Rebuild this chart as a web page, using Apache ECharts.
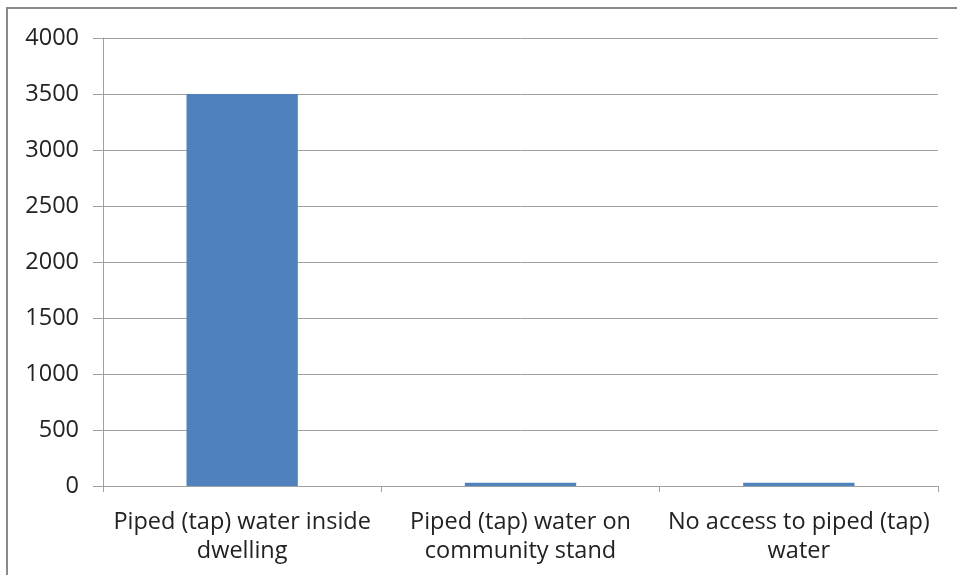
<!DOCTYPE html>
<html><head><meta charset="utf-8">
<script src="https://cdn.jsdelivr.net/npm/echarts@6/dist/echarts.min.js"></script>
<style>html,body{margin:0;padding:0;background:#fff}#c{width:957px;height:575px}</style>
</head><body><div id="c"></div>
<script>
const categories = ["Piped (tap) water inside\ndwelling", "Piped (tap) water on\ncommunity stand", "No access to piped (tap)\nwater"];
const values = [3500, 30, 30];
const yTicks = {min: 0, max: 4000, interval: 500};

const chart = echarts.init(document.getElementById('c'), null, {renderer: 'canvas'});
chart.setOption({
  animation: false,
  graphic: [
    {type: 'line', shape: {x1: 7, y1: 8, x2: 7, y2: 575}, style: {stroke: '#8a8a8a', lineWidth: 2}},
    {type: 'line', shape: {x1: 6, y1: 8, x2: 957, y2: 8}, style: {stroke: '#8a8a8a', lineWidth: 2}}
  ],
  grid: {left: 103, right: 19, top: 38, bottom: 89, containLabel: false},
  xAxis: {
    type: 'category', data: categories,
    axisLine: {lineStyle: {color: '#a0a0a0', width: 1}},
    axisTick: {show: true, length: 6, lineStyle: {color: '#a0a0a0'}},
    axisLabel: {color: '#222', fontSize: 23.5, fontFamily: 'Open Sans', lineHeight: 29, margin: 22, interval: 0}
  },
  yAxis: {
    type: 'value', min: yTicks.min, max: yTicks.max, interval: yTicks.interval,
    axisLine: {show: true, lineStyle: {color: '#a0a0a0'}},
    axisTick: {show: true, length: 10, lineStyle: {color: '#a0a0a0'}},
    splitLine: {lineStyle: {color: '#a0a0a0', width: 1}},
    axisLabel: {color: '#222', fontSize: 23.5, fontFamily: 'Open Sans', margin: 24, formatter: v => String(v)}
  },
  series: [{
    type: 'bar', data: values, barWidth: '40%',
    itemStyle: {color: '#4f81bd'}
  }]
});
</script></body></html>
